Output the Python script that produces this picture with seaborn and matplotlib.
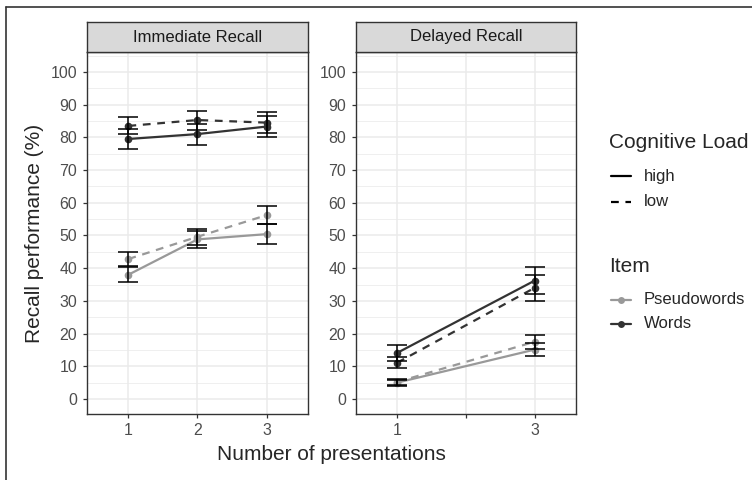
import matplotlib
matplotlib.use('Agg')
import matplotlib.pyplot as plt
from matplotlib.lines import Line2D
import numpy as np
import pandas as pd
import seaborn as sns

# values
panels = ['Immediate Recall', 'Delayed Recall']
pres_imm = [1, 2, 3]
pres_del = [1, 3]

imm_words_high = [79.5, 81.0, 83.3]
imm_words_high_se = [3.0, 3.2, 3.3]
imm_words_low = [83.5, 85.3, 84.5]
imm_words_low_se = [2.6, 2.9, 3.1]
imm_pseudo_high = [38.0, 48.8, 50.4]
imm_pseudo_high_se = [2.3, 2.5, 3.1]
imm_pseudo_low = [42.8, 49.6, 56.2]
imm_pseudo_low_se = [2.2, 2.4, 2.8]

del_words_high = [14.1, 36.2]
del_words_high_se = [2.4, 4.1]
del_words_low = [11.1, 34.0]
del_words_low_se = [1.7, 3.9]
del_pseudo_high = [5.0, 15.1]
del_pseudo_high_se = [0.9, 2.1]
del_pseudo_low = [5.2, 17.5]
del_pseudo_low_se = [0.8, 2.2]

rows = []
def add(panel, pres, item, load, vals, ses):
    for p, v, s in zip(pres, vals, ses):
        rows.append(dict(Panel=panel, Presentations=p, Item=item, Load=load, Recall=v, SE=s))

add('Immediate Recall', pres_imm, 'Pseudowords', 'high', imm_pseudo_high, imm_pseudo_high_se)
add('Immediate Recall', pres_imm, 'Pseudowords', 'low', imm_pseudo_low, imm_pseudo_low_se)
add('Immediate Recall', pres_imm, 'Words', 'high', imm_words_high, imm_words_high_se)
add('Immediate Recall', pres_imm, 'Words', 'low', imm_words_low, imm_words_low_se)
add('Delayed Recall', pres_del, 'Pseudowords', 'high', del_pseudo_high, del_pseudo_high_se)
add('Delayed Recall', pres_del, 'Pseudowords', 'low', del_pseudo_low, del_pseudo_low_se)
add('Delayed Recall', pres_del, 'Words', 'high', del_words_high, del_words_high_se)
add('Delayed Recall', pres_del, 'Words', 'low', del_words_low, del_words_low_se)
df = pd.DataFrame(rows)

sns.set_style('white')
plt.rcParams['font.family'] = ['Liberation Sans', 'DejaVu Sans']

palette = {'Pseudowords': '#999999', 'Words': '#333333'}
dash_low = (3.5, 3)
dashes = {'high': '', 'low': dash_low}
markers = {'high': 'o', 'low': 'o'}
dark = '#333333'
grid_col = '#EBEBEB'

fig = plt.figure(figsize=(7.52, 4.8), dpi=100)
W, H = 752, 480
def px_axes(x0, y0, x1, y1):
    return fig.add_axes([x0 / W, 1 - y1 / H, (x1 - x0) / W, (y1 - y0) / H])

ax_pos = [(87, 52, 308, 414), (356, 52, 576, 414)]
strip_top = 22

for panel, (x0, y0, x1, y1) in zip(panels, ax_pos):
    ax = px_axes(x0, y0, x1, y1)
    sub = df[df.Panel == panel]
    ax.set_xlim(0.4, 3.6)
    ax.set_ylim(-4.6, 106.1)
    ax.set_yticks(np.arange(0, 101, 10))
    ax.set_yticks(np.arange(5, 106, 10), minor=True)
    ax.set_xticks([1, 2, 3])
    if panel == 'Delayed Recall':
        ax.set_xticklabels(['1', '', '3'])
        ax.xaxis.get_major_ticks()[1].tick1line.set_visible(False)
    ax.grid(which='major', color=grid_col, lw=1.1, zorder=0)
    ax.grid(which='minor', axis='y', color=grid_col, lw=0.55, zorder=0)
    ax.set_axisbelow(True)

    sns.lineplot(data=sub, x='Presentations', y='Recall', hue='Item', style='Load',
                 palette=palette, dashes=dashes, markers=markers, markersize=5.5,
                 markeredgewidth=0, linewidth=1.6, errorbar=None, legend=False, ax=ax)
    for _, r in sub.iterrows():
        ax.errorbar(r.Presentations, r.Recall, yerr=r.SE, fmt='none', ecolor='black',
                    elinewidth=1.1, capsize=7.2, capthick=1.1, zorder=5)

    ax.set_xlabel('')
    ax.set_ylabel('')
    ax.tick_params(axis='both', which='major', length=3, width=0.9, color=dark,
                   labelsize=11.4, labelcolor='#4D4D4D', left=True, bottom=True)
    ax.tick_params(axis='x', pad=3.6)
    ax.tick_params(axis='y', pad=4.0)
    ax.tick_params(which='minor', length=0)
    for s in ax.spines.values():
        s.set_color(dark)
        s.set_linewidth(1.0)

    # facet strip
    sax = px_axes(x0, strip_top, x1, y0)
    sax.set_xticks([])
    sax.set_yticks([])
    sax.set_facecolor('#D9D9D9')
    for s in sax.spines.values():
        s.set_color(dark)
        s.set_linewidth(1.0)
    sax.text(0.5, 0.5, panel, ha='center', va='center', fontsize=12, color='#1A1A1A',
             transform=sax.transAxes)

fig.text(331 / W, 1 - 454 / H, 'Number of presentations', ha='center', va='center', fontsize=15)
fig.text(35 / W, 1 - 233 / H, 'Recall performance (%)', ha='center', va='center',
         rotation=90, fontsize=15)

# legends, drawn by hand to sit where the reference has them
def fy(y):
    return 1 - y / H

def key(y, **kw):
    fig.add_artist(Line2D([611 / W, 631 / W], [fy(y), fy(y)], transform=fig.transFigure, lw=1.6, **kw))

fig.text(609 / W, fy(143), 'Cognitive Load', ha='left', va='center', fontsize=15)
key(176, color='black')
fig.text(644 / W, fy(176), 'high', ha='left', va='center', fontsize=12)
key(202, color='black', dashes=dash_low)
fig.text(644 / W, fy(202), 'low', ha='left', va='center', fontsize=12)

fig.text(609 / W, fy(267), 'Item', ha='left', va='center', fontsize=15)
for y, item in [(300, 'Pseudowords'), (324, 'Words')]:
    key(y, color=palette[item])
    fig.add_artist(Line2D([621 / W], [fy(y)], transform=fig.transFigure, marker='o',
                          markersize=5, markeredgewidth=0, color=palette[item]))
    fig.text(644 / W, fy(y), item, ha='left', va='center', fontsize=12)

# outer frame visible at top and left
fig.add_artist(Line2D([6 / W, 6 / W], [0, fy(7)], color=dark, lw=1.2, transform=fig.transFigure))
fig.add_artist(Line2D([6 / W, 1], [fy(7), fy(7)], color=dark, lw=1.2, transform=fig.transFigure))

fig.savefig('out.png', dpi=100)
